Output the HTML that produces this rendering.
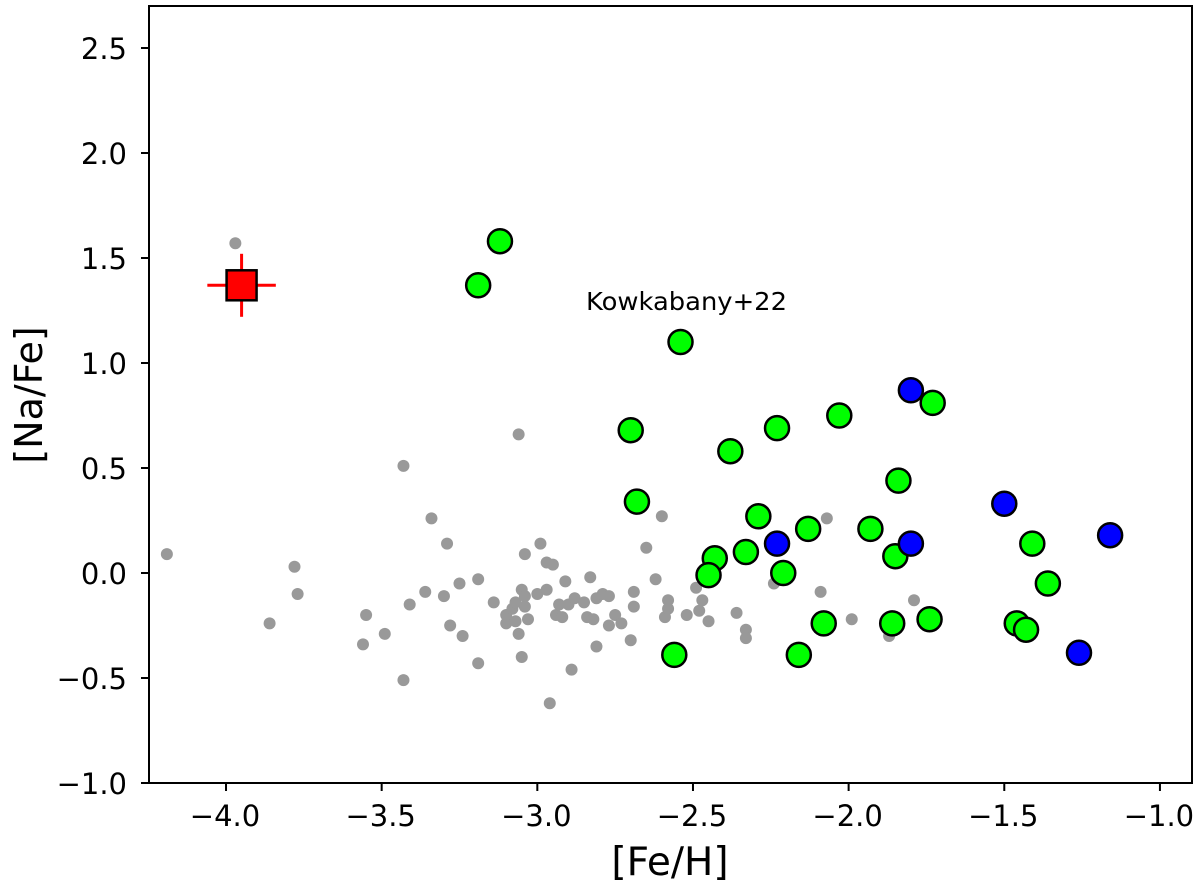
<!DOCTYPE html>
<html><head><meta charset="utf-8"><style>
html,body{margin:0;padding:0;background:#fff;}
svg{display:block;font-family:"DejaVu Sans","Liberation Sans",sans-serif;}
</style></head><body>
<svg id="chart" width="1200" height="886" viewBox="0 0 1200 886" xmlns="http://www.w3.org/2000/svg"></svg>
<script>
const xTicks=[-4.0,-3.5,-3.0,-2.5,-2.0,-1.5,-1.0];
const xTickLabels=["\u22124.0","\u22123.5","\u22123.0","\u22122.5","\u22122.0","\u22121.5","\u22121.0"];
const yTicks=[-1.0,-0.5,0.0,0.5,1.0,1.5,2.0,2.5];
const yTickLabels=["\u22121.0","\u22120.5","0.0","0.5","1.0","1.5","2.0","2.5"];
const greyFe=[-3.97,-4.19,-3.78,-3.77,-3.86,-3.55,-3.56,-3.49,-3.41,-3.43,-3.43,-3.36,-3.34,-3.29,-3.30,-3.28,-3.25,-3.24,-3.19,-3.19,-3.14,-3.10,-3.10,-3.08,-3.07,-3.07,-3.06,-3.06,-3.05,-3.05,-3.04,-3.04,-3.04,-3.03,-3.00,-2.99,-2.97,-2.97,-2.95,-2.96,-2.94,-2.93,-2.92,-2.91,-2.90,-2.89,-2.88,-2.85,-2.84,-2.83,-2.82,-2.81,-2.81,-2.79,-2.77,-2.77,-2.75,-2.73,-2.70,-2.69,-2.69,-2.65,-2.62,-2.60,-2.59,-2.58,-2.58,-2.52,-2.49,-2.48,-2.47,-2.45,-2.36,-2.33,-2.33,-2.24,-2.07,-2.09,-1.99,-1.87,-1.79];
const greyNa=[1.57,0.09,0.03,-0.10,-0.24,-0.20,-0.34,-0.29,-0.15,0.51,-0.51,-0.09,0.26,0.14,-0.11,-0.25,-0.05,-0.30,-0.03,-0.43,-0.14,-0.20,-0.24,-0.17,-0.14,-0.23,0.66,-0.29,-0.08,-0.40,-0.11,-0.16,0.09,-0.22,-0.10,0.14,-0.08,0.05,0.04,-0.62,-0.20,-0.15,-0.21,-0.04,-0.15,-0.46,-0.12,-0.14,-0.21,-0.02,-0.22,-0.12,-0.35,-0.10,-0.25,-0.11,-0.20,-0.24,-0.32,-0.09,-0.16,0.12,-0.03,0.27,-0.21,-0.13,-0.17,-0.20,-0.07,-0.18,-0.13,-0.23,-0.19,-0.27,-0.31,-0.05,0.26,-0.09,-0.22,-0.30,-0.13];
const greenFe=[-3.19,-3.12,-2.54,-2.70,-2.68,-2.38,-2.23,-2.03,-1.73,-1.84,-2.29,-2.13,-1.93,-2.33,-2.43,-2.45,-2.21,-1.85,-1.41,-1.36,-2.56,-2.16,-2.08,-1.86,-1.74,-1.46,-1.43];
const greenNa=[1.37,1.58,1.10,0.68,0.34,0.58,0.69,0.75,0.81,0.44,0.27,0.21,0.21,0.10,0.07,-0.01,0.0,0.08,0.14,-0.05,-0.39,-0.39,-0.24,-0.24,-0.22,-0.24,-0.27];
const blueFe=[-1.80,-2.23,-1.80,-1.50,-1.16,-1.26];
const blueNa=[0.87,0.14,0.14,0.33,0.18,-0.38];
const starFe=[-3.95];
const starNa=[1.37];
const starErrFe=[0.11];
const starErrNa=[0.15];

const L=149,R=1192,T=6,B=783;
const xMin=-4.2474,xMax=-0.897,yMin=-1.0,yMax=2.7;
function sx(v){return L+(v-xMin)/(xMax-xMin)*(R-L);}
function sy(v){return B-(v-yMin)/(yMax-yMin)*(B-T);}
const NS="http://www.w3.org/2000/svg";
const svg=document.getElementById('chart');
function mk(tag,attrs,parent){const e=document.createElementNS(NS,tag);for(const k in attrs)e.setAttribute(k,attrs[k]);(parent||svg).appendChild(e);return e;}

const gGrey=mk('g',{});


for(let i=0;i<greyFe.length;i++){
  const c=mk('circle',{cx:sx(greyFe[i]),cy:sy(greyNa[i]),r:6,fill:'#999999'},gGrey);
  
  
}
const gGreen=mk('g',{});


for(let i=0;i<greenFe.length;i++){
  const c=mk('circle',{cx:sx(greenFe[i]),cy:sy(greenNa[i]),r:12,fill:'#00ff00',stroke:'#000','stroke-width':2.5},gGreen);
  
  
}
const gBlue=mk('g',{});


for(let i=0;i<blueFe.length;i++){
  const c=mk('circle',{cx:sx(blueFe[i]),cy:sy(blueNa[i]),r:12,fill:'#0000ff',stroke:'#000','stroke-width':2.5},gBlue);
  
  
}
for(let i=0;i<starFe.length;i++){
  const cx=sx(starFe[i]),cy=sy(starNa[i]);
  const g=mk('g',{});
  
  
  mk('line',{x1:sx(starFe[i]-starErrFe[i]),x2:sx(starFe[i]+starErrFe[i]),y1:cy,y2:cy,stroke:'#ff0000','stroke-width':3},g);
  mk('line',{x1:cx,x2:cx,y1:sy(starNa[i]-starErrNa[i]),y2:sy(starNa[i]+starErrNa[i]),stroke:'#ff0000','stroke-width':3},g);
  mk('rect',{x:cx-15,y:cy-15,width:30,height:30,fill:'#ff0000',stroke:'#000','stroke-width':2.5},g);
}
const ann=mk('text',{x:586,y:310,'font-size':25,textLength:201,lengthAdjust:'spacingAndGlyphs',fill:'#000'});
ann.textContent='Kowkabany+22';



const frame=mk('rect',{x:L,y:T,width:R-L,height:B-T,fill:'none',stroke:'#000','stroke-width':2});



for(let i=0;i<xTicks.length;i++){
  const x=sx(xTicks[i]);
  mk('line',{x1:x,x2:x,y1:B,y2:B+8,stroke:'#000','stroke-width':2});
  const t=mk('text',{x:x-1,y:826,'font-size':29,'text-anchor':'middle',fill:'#000'});
  t.textContent=xTickLabels[i];
  
  
}
for(let i=0;i<yTicks.length;i++){
  const y=sy(yTicks[i]);
  mk('line',{x1:L-8,x2:L,y1:y,y2:y,stroke:'#000','stroke-width':2});
  const t=mk('text',{x:127,y:y+11,'font-size':29,'text-anchor':'end',fill:'#000'});
  t.textContent=yTickLabels[i];
  
  
}
const xl=mk('text',{x:670,y:875,'font-size':39,'text-anchor':'middle',fill:'#000'});
xl.textContent='[Fe/H]';


const yl=mk('text',{x:0,y:0,'font-size':38,'text-anchor':'middle',fill:'#000',transform:'translate(42,395) rotate(-90)'});
yl.textContent='[Na/Fe]';


</script>
</body></html>
